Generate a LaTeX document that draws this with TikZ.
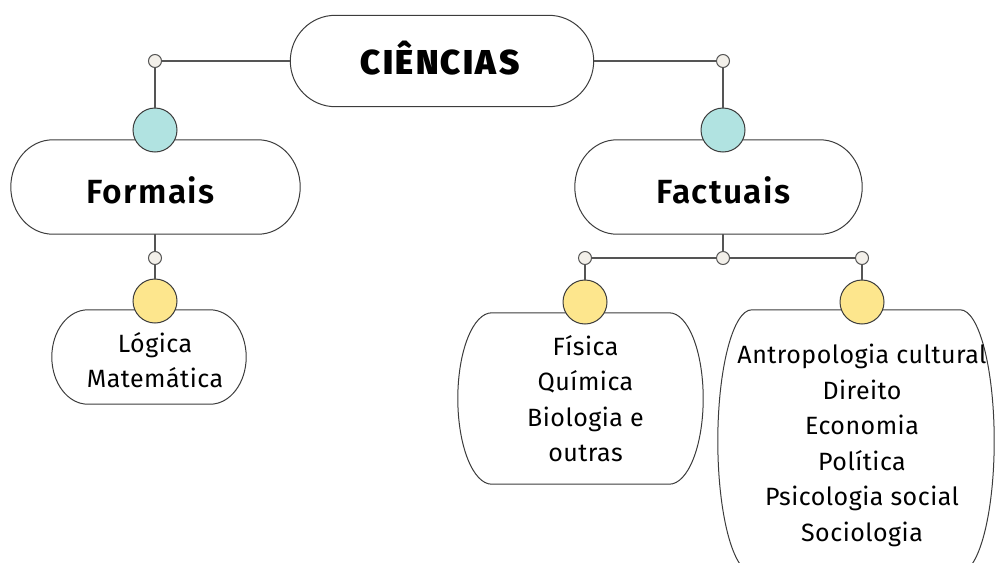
\documentclass[tikz,border=0pt]{standalone}
\usepackage{fontspec}
\setmainfont{Fira Sans}[LetterSpace=2]
\newfontfamily\blackfont{Fira Sans Black}[LetterSpace=7]
\newfontfamily\semifont{Fira Sans SemiBold}[LetterSpace=4]
\usetikzlibrary{calc}

\definecolor{linegray}{HTML}{555555}
\definecolor{edgegray}{HTML}{3C3C3C}
\definecolor{dotfill}{HTML}{F3F0EA}
\definecolor{tealfill}{HTML}{B1E3E1}
\definecolor{yellowfill}{HTML}{FDE68D}

% frame with elliptic ends around a named node, #2 is the x radius of the ends
\newcommand{\ovalframe}[2]{%
  \draw[frame] let \p1=(#1.north west), \p2=(#1.south east), \n1={0.5*(\y1-\y2)} in
    (\x1+#2pt,\y1) -- (\x2-#2pt,\y1) arc[start angle=90, end angle=-90, x radius=#2pt, y radius=\n1]
    -- (\x1+#2pt,\y2) arc[start angle=270, end angle=90, x radius=#2pt, y radius=\n1] -- cycle;}

\begin{document}
\begin{tikzpicture}[x=1pt, y=1pt,
    frame/.style={draw=edgegray, line width=1pt, fill=white},
    box/.style={inner sep=0pt, align=center, font=\fontsize{25}{35.5}\selectfont},
    head/.style={box, font=\fontsize{34.5}{38}\selectfont\blackfont},
    sub/.style={box, font=\fontsize{33.5}{38}\selectfont\semifont},
    dot/.style={circle, inner sep=0pt, minimum size=13pt, fill=dotfill, draw=linegray, line width=1pt},
    knob/.style={circle, inner sep=0pt, minimum size=44pt, draw=edgegray, line width=1pt},
    conn/.style={draw=linegray, line width=1.6pt}]
    \useasboundingbox (0,0) rectangle (995,-562);

    % Define the main boxes
    \node[box, minimum width=303pt, minimum height=91pt] (cien) at (442,-61) {};
    \node[box, minimum width=289pt, minimum height=94pt] (form) at (155.5,-187) {};
    \node[box, minimum width=287pt, minimum height=94pt] (fact) at (718.5,-187) {};
    \node[box, minimum width=194pt, minimum height=94pt] (logi) at (149,-357) {};
    \node[box, minimum width=245pt, minimum height=171pt] (fisi) at (580.5,-398.5) {};
    \node[box, minimum width=276pt, minimum height=262pt] (soci) at (856,-441) {};

    % Draw the frames, then put the texts on top
    \ovalframe{cien}{45}
    \ovalframe{form}{42}
    \ovalframe{fact}{42}
    \ovalframe{logi}{36}
    \ovalframe{fisi}{34}
    \ovalframe{soci}{34}
    \node[head] (cient) at ($(cien)+(-2,3)$) {CIÊNCIAS};
    \node[sub] (formt) at ($(form)+(-5,-3)$) {Formais};
    \node[sub] (factt) at ($(fact)+(5,-3)$) {Factuais};
    \node[box] (logit) at ($(logi)+(6,-3)$) {Lógica\\Matemática};
    \node[box] (fisit) at ($(fisi)+(5,0)$) {Física\\Química\\Biologia e\\outras};
    \node[box] (socit) at ($(soci)+(6,-4.5)$) {Antropologia cultural\\Direito\\Economia\\Política\\Psicologia social\\Sociologia};

    % Define the small joints
    \node[dot] (j1) at (155,-61) {};
    \node[dot] (j2) at (723,-61) {};
    \node[dot] (j3) at (155,-258) {};
    \node[dot] (j4) at (723,-258) {};
    \node[dot] (j5) at (585,-258) {};
    \node[dot] (j6) at (862,-258) {};

    % Define the coloured knobs sitting on the boxes
    \node[knob, fill=tealfill] (k1) at (155,-130) {};
    \node[knob, fill=tealfill] (k2) at (723,-130) {};
    \node[knob, fill=yellowfill] (k3) at (155,-301) {};
    \node[knob, fill=yellowfill] (k4) at (585,-302) {};
    \node[knob, fill=yellowfill] (k5) at (862,-302) {};

    % Draw the connectors
    \draw[conn] (cien) -- (j1);
    \draw[conn] (j1) -- (k1);
    \draw[conn] (cien) -- (j2);
    \draw[conn] (j2) -- (k2);
    \draw[conn] (j3 |- form.south) -- (j3);
    \draw[conn] (j3) -- (k3);
    \draw[conn] (j4 |- fact.south) -- (j4);
    \draw[conn] (j5) -- (j4);
    \draw[conn] (j4) -- (j6);
    \draw[conn] (j5) -- (k4);
    \draw[conn] (j6) -- (k5);
\end{tikzpicture}
\end{document}
